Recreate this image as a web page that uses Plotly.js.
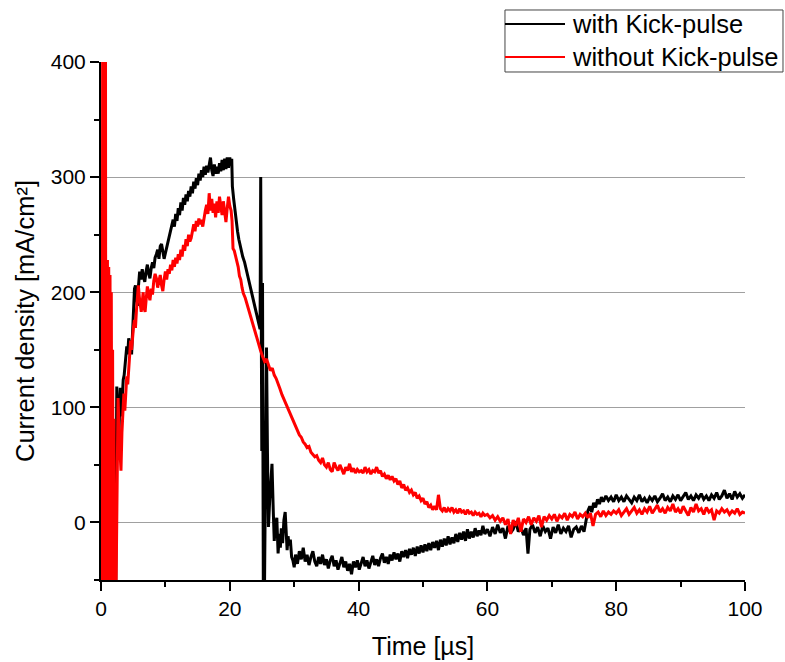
<!DOCTYPE html>
<html>
<head>
<meta charset="utf-8">
<script src="https://cdn.plot.ly/plotly-3.0.1.min.js"></script>
<style>html,body{margin:0;padding:0;background:#fff}#chart{width:785px;height:662px}</style>
</head>
<body>
<div id="chart"></div>
<script>
// Series names
const seriesNames = ['with Kick-pulse', 'without Kick-pulse'];

// with Kick-pulse: [time µs, current density mA/cm²]
const withKick = [
[1.9,-50],[2.0,12],[2.1,-50],[2.3,-50],[2.45,118],[2.6,96],[2.75,70],[2.9,100],[3.0,117],[3.15,92],[3.3,112],[3.45,124],[3.6,128],[3.8,140],[4.0,153],[4.15,146],[4.3,160],[4.45,152],[4.6,158],[4.75,146],[4.9,168],[5.05,190],[5.2,203],[5.35,206],[5.5,195],[5.65,188],[5.8,204],
[6.0,218],[6.2,211],[6.4,220],[6.6,213],[6.8,209],[7.0,218],[7.2,224],[7.4,216],[7.6,212],[7.8,221],[8.0,226],[8.2,221],[8.4,230],[8.6,233],[8.8,237],[9.0,229],[9.2,240],[9.4,242],[9.6,234],[9.8,229],[10.0,234],[10.2,239],[10.4,243],[10.6,246],[10.8,251],[11.0,256],[11.2,263],[11.4,257],[11.6,268],[11.8,262],[12.0,273],[12.2,267],[12.4,278],[12.6,271],[12.8,282],[13.0,276],[13.2,285],[13.4,279],[13.6,288],[13.8,283],[14.0,292],[14.2,286],[14.4,296],[14.6,290],[14.8,299],[15.0,293],[15.2,303],[15.4,297],[15.6,306],[15.8,300],[16.0,309],[16.2,302],[16.4,310],[16.6,304],[16.8,313],[17.0,317],[17.2,306],[17.4,301],[17.6,311],[17.8,303],[18.0,309],[18.2,303],[18.4,312],[18.6,305],[18.8,315],[19.0,306],[19.2,316],[19.4,307],[19.6,317],[19.8,308],[20.0,317],[20.15,310],[20.3,316],
[20.4,292],[20.6,281],[20.8,270],[21.0,262],[21.2,253],[21.4,246],[21.6,240],[21.8,236],[22.0,231],[22.3,226],[22.6,219],[22.9,212],[23.2,205],[23.5,198],[23.8,191],[24.1,184],[24.4,176],[24.6,171],[24.7,168],[24.8,300],[24.9,150],[24.97,62],[25.08,208],[25.2,-50],[25.4,-50],[25.55,60],[25.7,152],[25.85,60],[26.0,-4],[26.2,20],[26.4,40],[26.55,51],[26.75,10],[26.9,-16],[27.1,-2],[27.3,4],[27.5,-27],[27.7,-10],[27.85,-22],[28.0,-5],[28.2,-18],[28.4,2],[28.6,9],[28.75,-12],[28.9,-24],[29.05,-12],[29.2,-20],[29.4,-15],[29.6,-30],[29.8,-33],[30.0,-39],
[30.2,-28],[30.5,-36],[30.8,-25],[31.1,-32],[31.4,-22],[31.7,-34],[32.0,-28],[32.3,-37],[32.6,-30],[32.9,-25],[33.2,-34],[33.5,-38],[33.8,-30],[34.1,-36],[34.4,-28],[34.7,-37],[35.0,-32],[35.3,-40],[35.6,-33],[35.9,-29],[36.2,-38],[36.5,-33],[36.8,-41],[37.1,-35],[37.4,-30],[37.7,-39],[38.0,-34],[38.3,-42],[38.6,-36],[38.9,-45],[39.2,-34],[39.5,-39],[39.8,-33],[40.1,-41],[40.4,-35],[40.7,-30],[41.0,-38],[41.3,-33],[41.6,-40],[41.9,-34],[42.2,-29],[42.5,-37],[42.8,-32],[43.1,-38],[43.4,-31],[43.7,-27],[44.0,-35],[44.3,-30],[44.6,-36],[44.9,-28],[45.2,-33],[45.5,-26],[45.8,-32],[46.1,-27],[46.4,-34],[46.7,-25],[47.0,-30],[47.3,-24],[47.6,-31],[47.9,-23],[48.2,-28],[48.5,-22],[48.8,-29],[49.1,-21],[49.4,-27],[49.7,-20],[50.0,-26],[50.3,-19],[50.6,-25],[50.9,-18],[51.2,-24],[51.5,-17],[51.8,-22],[52.1,-16],[52.4,-24],[52.7,-15],[53.0,-21],[53.3,-14],[53.6,-20],[53.9,-12],[54.2,-19],[54.5,-13],[54.8,-18],[55.1,-10],[55.4,-17],[55.7,-9],[56.0,-15],[56.3,-8],[56.6,-16],[56.9,-6],[57.2,-14],[57.5,-8],[57.8,-13],[58.1,-5],[58.4,-12],[58.7,-7],[59.0,-11],[59.3,-3],[59.6,-10],
[60.0,-6],[60.4,-12],[60.8,-4],[61.2,-10],[61.6,-2],[62.0,-9],[62.4,-5],[62.8,-14],[63.2,-3],[63.6,-9],[64.0,-6],[64.4,1],[64.8,-8],[65.2,-4],[65.6,-11],[66.0,-5],[66.3,-27],[66.6,-6],[67.0,-2],[67.4,-9],[67.8,-4],[68.2,-12],[68.6,-3],[69.0,-8],[69.4,-5],[69.8,-14],[70.2,-4],[70.6,-9],[71.0,-2],[71.4,-10],[71.8,-5],[72.2,-8],[72.6,-3],[73.0,-13],[73.4,-6],[73.8,-4],[74.2,-9],[74.6,-3],[75.0,-8],[75.3,2],[75.6,10],[75.9,14],[76.2,9],[76.5,17],[76.8,13],[77.1,20],[77.4,16],[77.7,22],[78.0,18],[78.4,23],[78.8,19],[79.2,22],[79.6,18],
[80.0,24],[80.4,19],[80.8,22],[81.2,18],[81.6,23],[82.0,20],[82.4,17],[82.8,22],[83.2,19],[83.6,24],[84.0,18],[84.4,21],[84.8,17],[85.2,22],[85.6,19],[86.0,23],[86.4,18],[86.8,21],[87.2,25],[87.6,19],[88.0,22],[88.4,18],[88.8,23],[89.2,20],[89.6,24],[90.0,19],[90.4,22],[90.8,26],[91.2,20],[91.6,23],[92.0,19],[92.4,24],[92.8,21],[93.2,25],[93.6,20],[94.0,23],[94.4,19],[94.8,24],[95.2,21],[95.6,26],[96.0,20],[96.4,23],[96.8,28],[97.2,21],[97.6,25],[98.0,20],[98.4,27],[98.8,22],[99.2,25],[99.6,21],[100.0,24]
];

// without Kick-pulse: [time µs, current density mA/cm²]
const withoutKick = [
[0.2,-50],[0.25,400],[0.4,400],[0.45,-50],[0.5,400],[0.7,400],[0.75,-50],[0.85,225],[0.95,-40],[1.0,228],[1.1,-50],[1.2,222],[1.3,-20],[1.4,215],[1.5,-50],[1.6,200],[1.7,-50],[1.8,150],[1.9,-50],[2.0,90],[2.1,-50],[2.35,-50],[2.5,75],[2.65,108],[2.8,80],[2.95,58],[3.1,45],[3.25,78],[3.4,100],[3.55,112],[3.7,97],[3.85,118],[4.0,127],[4.15,120],[4.3,132],[4.45,142],[4.6,158],[4.75,150],[4.9,162],[5.05,170],[5.2,176],[5.35,169],[5.5,184],[5.65,195],[5.8,206],[5.95,196],[6.1,186],[6.25,183],[6.4,191],[6.55,200],[6.7,186],[6.85,183],
[7.0,193],[7.2,205],[7.4,198],[7.6,193],[7.8,203],[8.0,198],[8.2,210],[8.4,216],[8.6,212],[8.8,204],[9.0,210],[9.2,215],[9.4,206],[9.6,201],[9.8,211],[10.0,218],[10.2,211],[10.4,220],[10.6,216],[10.8,224],[11.0,219],[11.2,228],[11.4,222],[11.6,230],[11.8,225],[12.0,233],[12.2,228],[12.4,237],[12.6,231],[12.8,241],[13.0,236],[13.2,246],[13.4,240],[13.6,250],[13.8,244],[14.0,247],[14.2,253],[14.4,259],[14.6,253],[14.8,262],[15.0,257],[15.2,264],[15.4,259],[15.6,263],[15.8,257],[16.0,266],[16.2,271],[16.4,276],[16.6,268],[16.8,286],[17.0,271],[17.2,281],[17.4,269],[17.6,277],[17.8,265],[18.0,279],[18.2,269],[18.4,283],[18.6,272],[18.8,267],[19.0,279],[19.2,270],[19.4,261],[19.6,273],[19.8,283],[20.0,275],[20.2,271],[20.35,262],
[20.5,238],[20.7,236],[20.9,231],[21.1,229],[21.3,222],[21.5,214],[21.7,211],[21.9,204],[22.1,199],[22.4,195],[22.7,189],[23.0,184],[23.3,177],[23.6,173],[23.9,166],[24.2,160],[24.5,154],[24.8,149],[25.1,144],[25.4,140],[25.7,142],[26.0,136],[26.3,132],[26.6,134],[26.9,128],[27.2,125],[27.5,121],[27.8,116],[28.1,111],[28.4,107],[28.7,104],[29.0,99],[29.3,95],[29.6,92],[29.9,88],[30.2,83],[30.5,79],[30.8,76],[31.1,74],[31.4,70],[31.7,68],[32.0,65],[32.3,66],[32.6,61],[32.9,59],[33.2,57],[33.5,58],[33.8,54],[34.1,52],[34.4,56],[34.7,50],[35.0,48],[35.3,52],[35.6,46],[35.9,44],[36.2,52],[36.5,48],[36.8,45],[37.1,50],[37.4,46],[37.7,42],[38.0,48],[38.3,45],[38.6,51],[38.9,44],[39.2,47],[39.5,43],[39.8,46],
[40.1,44],[40.4,45],[40.7,43],[41.0,48],[41.3,44],[41.6,46],[41.9,42],[42.2,45],[42.5,44],[42.8,48],[43.1,43],[43.4,45],[43.7,40],[44.0,42],[44.3,38],[44.6,41],[44.9,37],[45.2,40],[45.5,36],[45.8,38],[46.1,33],[46.4,36],[46.7,30],[47.0,33],[47.3,28],[47.6,30],[47.9,26],[48.2,28],[48.5,24],[48.8,26],[49.1,21],[49.4,23],[49.7,19],[50.0,21],[50.3,16],[50.6,18],[50.9,13],[51.2,15],[51.5,11],[51.8,14],[52.1,11],[52.4,24],[52.7,12],[53.0,10],[53.3,13],[53.6,9],[53.9,12],[54.2,10],[54.5,13],[54.8,9],[55.1,11],[55.4,8],[55.7,12],[56.0,9],[56.3,10],[56.6,7],[56.9,11],[57.2,8],[57.5,9],[57.8,6],[58.1,9],[58.4,7],[58.7,8],[59.0,5],[59.3,8],[59.6,6],
[60.0,7],[60.4,4],[60.8,6],[61.2,2],[61.6,5],[62.0,1],[62.4,4],[62.8,-2],[63.2,3],[63.6,-10],[64.0,2],[64.4,-3],[64.8,4],[65.2,-8],[65.6,3],[66.0,0],[66.4,5],[66.8,-2],[67.2,4],[67.6,1],[68.0,6],[68.4,-4],[68.8,5],[69.2,2],[69.6,6],[70.0,3],[70.4,7],[70.8,1],[71.2,6],[71.6,4],[72.0,8],[72.4,2],[72.8,7],[73.2,5],[73.6,9],[74.0,3],[74.4,7],[74.8,5],[75.2,8],[75.6,4],[76.0,8],[76.4,-3],[76.8,7],[77.2,9],[77.6,5],[78.0,10],[78.4,6],[78.8,9],[79.2,7],[79.6,10],
[80.0,8],[80.4,11],[80.8,6],[81.2,9],[81.6,12],[82.0,7],[82.4,10],[82.8,13],[83.2,8],[83.6,11],[84.0,7],[84.4,12],[84.8,9],[85.2,14],[85.6,8],[86.0,11],[86.4,15],[86.8,9],[87.2,12],[87.6,8],[88.0,13],[88.4,10],[88.8,16],[89.2,9],[89.6,12],[90.0,8],[90.4,14],[90.8,10],[91.2,6],[91.6,13],[92.0,9],[92.4,16],[92.8,10],[93.2,12],[93.6,7],[94.0,13],[94.4,9],[94.8,11],[95.2,2],[95.6,10],[96.0,8],[96.4,12],[96.8,9],[97.2,11],[97.6,7],[98.0,10],[98.4,8],[98.8,12],[99.2,7],[99.6,9],[100.0,8]
];

// Axis tick values
const xTicks = [0, 20, 40, 60, 80, 100];
const yTicks = [0, 100, 200, 300, 400];

const colors = ['#000000', '#ff0000'];

const traces = [
  {x: withKick.map(p => p[0]), y: withKick.map(p => p[1]), name: seriesNames[0], type: 'scatter', mode: 'lines',
   line: {color: colors[0], width: 3}},
  {x: withoutKick.map(p => p[0]), y: withoutKick.map(p => p[1]), name: seriesNames[1], type: 'scatter', mode: 'lines',
   line: {color: colors[1], width: 3}}
];

const font = 'Liberation Sans, Arial, sans-serif';

// Legend drawn as a framed box above the top-right of the plot
const legBox = {x0: 0.6273, x1: 1.059, y0: 0.9807, y1: 1.1004};
const legRows = [1.0734, 1.0097];
const legLine = {x0: 0.6273, x1: 0.7205};
const legTextX = 0.7283;

const shapes = [
  {type: 'rect', xref: 'paper', yref: 'paper', x0: legBox.x0, x1: legBox.x1, y0: legBox.y0, y1: legBox.y1,
   line: {color: '#444444', width: 1}, fillcolor: 'rgba(255,255,255,0)', layer: 'above'}
];
const annotations = [];
seriesNames.forEach((n, i) => {
  shapes.push({type: 'line', xref: 'paper', yref: 'paper', x0: legLine.x0, x1: legLine.x1, y0: legRows[i], y1: legRows[i],
               line: {color: colors[i], width: 2}});
  annotations.push({xref: 'paper', yref: 'paper', x: legTextX, y: legRows[i], xanchor: 'left', yanchor: 'middle',
                    text: n, showarrow: false, font: {family: font, size: 25.5, color: '#000'}});
});

const layout = {
  width: 785, height: 662,
  margin: {l: 101, r: 40, t: 62, b: 82, pad: 0, autoexpand: false},
  paper_bgcolor: '#ffffff', plot_bgcolor: '#ffffff',
  font: {family: font, color: '#000000'},
  showlegend: false,
  hovermode: false,
  shapes: shapes,
  annotations: annotations,
  xaxis: {
    range: [0, 100], tickvals: xTicks, ticktext: xTicks.map(String),
    ticks: 'outside', ticklen: 9, tickwidth: 2, tickcolor: '#000',
    showline: true, linecolor: '#000', linewidth: 2, mirror: false,
    showgrid: false, zeroline: false,
    tickfont: {family: font, size: 21, color: '#000'},
    title: {text: 'Time [µs]', font: {family: font, size: 25, color: '#000'}, standoff: 18},
    minor: {dtick: 10, tick0: 0, ticks: 'outside', ticklen: 5, tickwidth: 2, tickcolor: '#000', showgrid: false}
  },
  yaxis: {
    range: [-50, 400], tickvals: yTicks, ticktext: yTicks.map(String),
    ticks: 'outside', ticklen: 9, tickwidth: 2, tickcolor: '#000',
    showline: true, linecolor: '#000', linewidth: 2, mirror: false,
    showgrid: true, gridcolor: '#a0a0a0', gridwidth: 1, zeroline: false,
    tickfont: {family: font, size: 21, color: '#000'},
    title: {text: 'Current density [mA/cm²]', font: {family: font, size: 25.5, color: '#000'}, standoff: 9},
    minor: {dtick: 50, tick0: 0, ticks: 'outside', ticklen: 5, tickwidth: 2, tickcolor: '#000', showgrid: false}
  }
};

Plotly.newPlot('chart', traces, layout, {staticPlot: true, displayModeBar: false});
</script>
</body>
</html>
